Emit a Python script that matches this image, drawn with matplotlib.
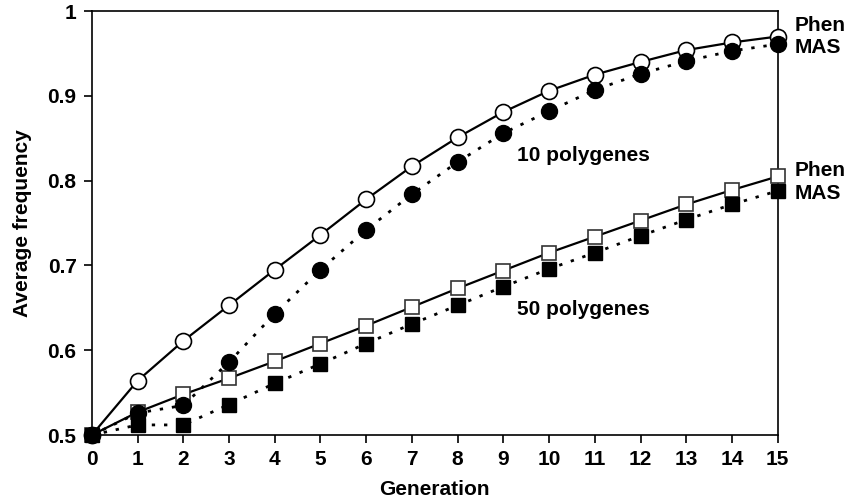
import matplotlib
matplotlib.use("Agg")
import matplotlib.pyplot as plt

plt.rcParams['font.family'] = ['Liberation Sans', 'DejaVu Sans']
plt.rcParams['font.weight'] = 'bold'

generation = list(range(16))
phen_10 = [0.500, 0.564, 0.611, 0.653, 0.695, 0.736, 0.778, 0.817, 0.851, 0.881,
           0.906, 0.925, 0.940, 0.954, 0.963, 0.970]
mas_10 = [0.500, 0.526, 0.535, 0.586, 0.643, 0.695, 0.742, 0.784, 0.822, 0.856,
          0.882, 0.907, 0.926, 0.941, 0.953, 0.961]
phen_50 = [0.500, 0.527, 0.548, 0.567, 0.587, 0.608, 0.629, 0.651, 0.673, 0.694,
           0.715, 0.734, 0.753, 0.772, 0.789, 0.805]
mas_50 = [0.500, 0.512, 0.512, 0.536, 0.561, 0.584, 0.608, 0.631, 0.653, 0.675,
          0.696, 0.715, 0.735, 0.754, 0.772, 0.788]

fig = plt.figure(figsize=(8.5, 5.03), dpi=100)
ax = fig.add_axes([0.108, 0.135, 0.807, 0.843])

dot = (0, (1.2, 3.2))
ax.plot(generation, phen_50, linestyle='-', color='black', lw=1.6, marker='s', ms=10,
        mfc='white', mec='#333333', mew=1.2, zorder=3)
ax.plot(generation, mas_50, linestyle=dot, color='black', lw=2, marker='s', ms=10,
        mfc='black', mec='black', mew=1, zorder=4)
ax.plot(generation, phen_10, linestyle='-', color='black', lw=1.6, marker='o', ms=11.5,
        mfc='white', mec='black', mew=1.2, zorder=3)
ax.plot(generation, mas_10, linestyle=dot, color='black', lw=2, marker='o', ms=11.5,
        mfc='black', mec='black', mew=1, zorder=4)

ax.set_xlim(0, 15)
ax.set_ylim(0.5, 1.0)
ax.set_xticks(generation)
ax.set_yticks([0.5, 0.6, 0.7, 0.8, 0.9, 1.0])
ax.set_yticklabels(['0.5', '0.6', '0.7', '0.8', '0.9', '1'])
ax.tick_params(axis='both', direction='out', length=6, width=1.2, labelsize=15, pad=5)
for lab in ax.get_xticklabels() + ax.get_yticklabels():
    lab.set_fontweight('bold')
for s in ax.spines.values():
    s.set_linewidth(1.2)

ax.set_xlabel('Generation', fontsize=15, fontweight='bold', labelpad=8)
ax.set_ylabel('Average frequency', fontsize=15, fontweight='bold', labelpad=11)

ax.text(9.3, 0.830, '10 polygenes', fontsize=15, fontweight='bold', va='center', ha='left')
ax.text(9.3, 0.6486, '50 polygenes', fontsize=15, fontweight='bold', va='center', ha='left')

ax.text(15.37, 0.983, 'Phen', fontsize=15, fontweight='bold', va='center', ha='left', clip_on=False)
ax.text(15.37, 0.957, 'MAS', fontsize=15, fontweight='bold', va='center', ha='left', clip_on=False)
ax.text(15.37, 0.8125, 'Phen', fontsize=15, fontweight='bold', va='center', ha='left', clip_on=False)
ax.text(15.37, 0.785, 'MAS', fontsize=15, fontweight='bold', va='center', ha='left', clip_on=False)

for line in ax.get_lines():
    line.set_clip_on(False)

fig.savefig('out.png', dpi=100)
